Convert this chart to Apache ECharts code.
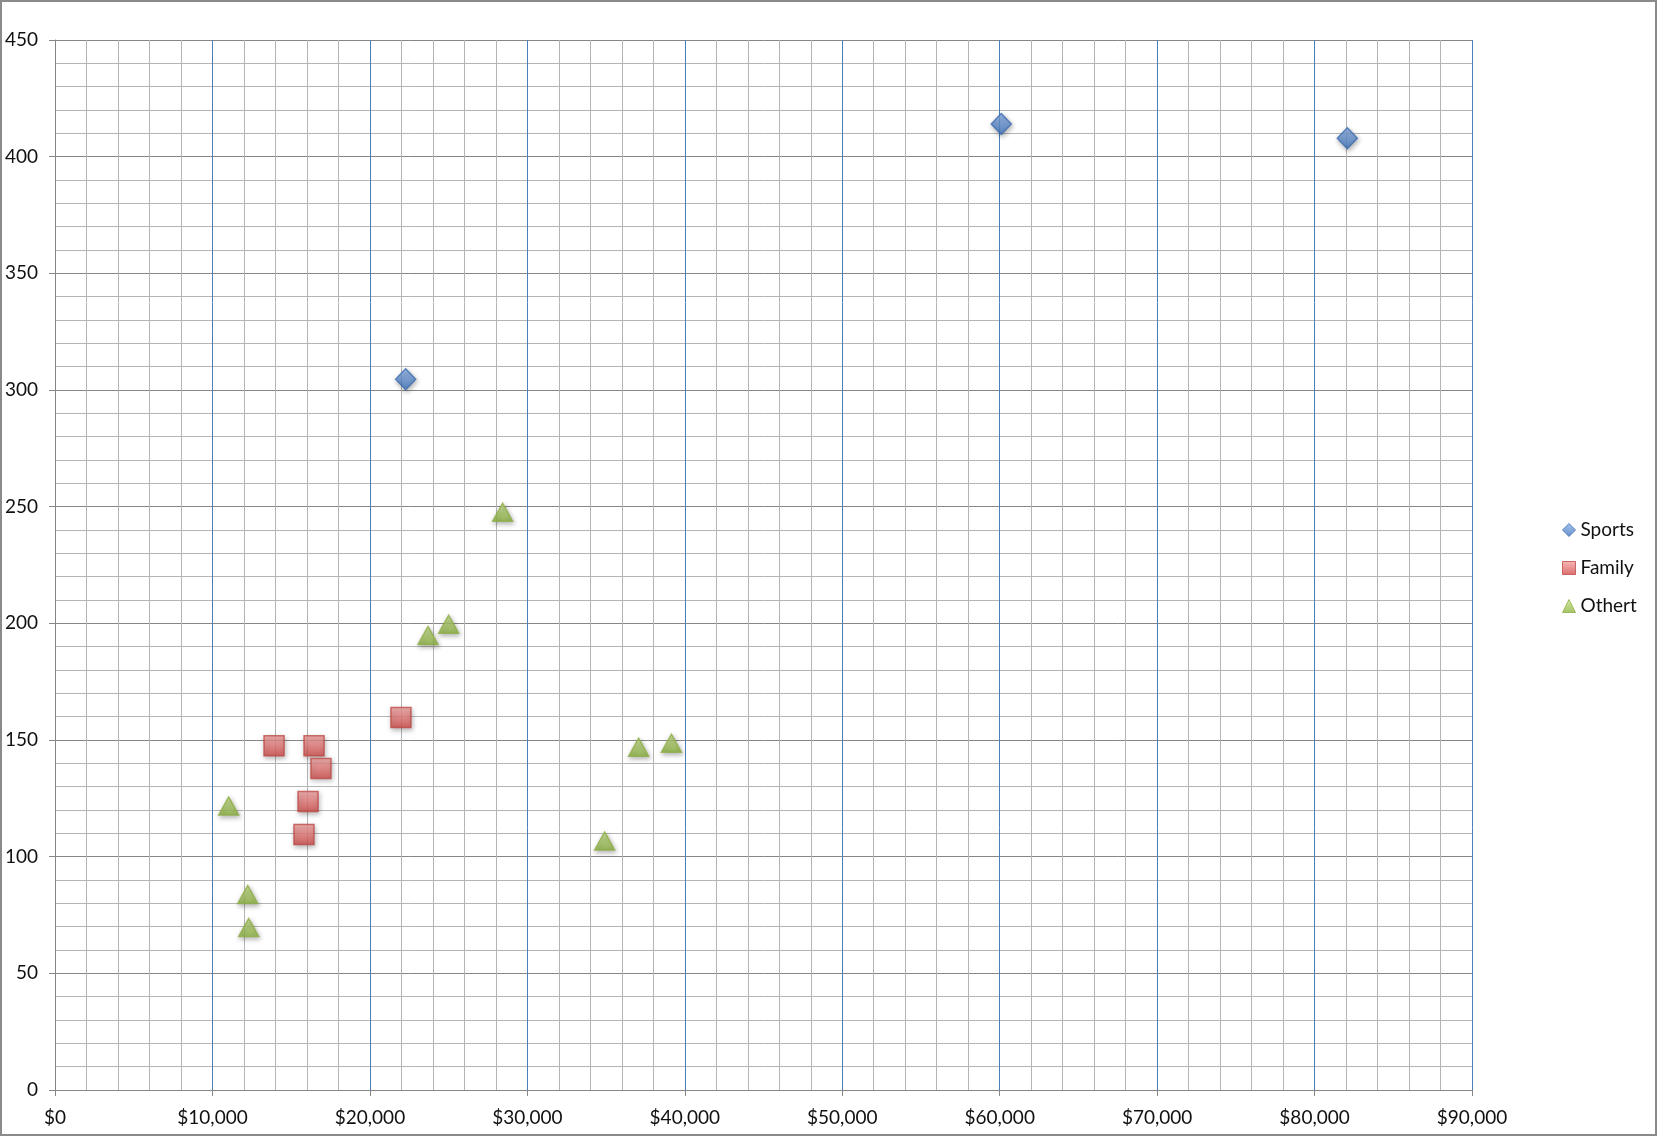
<!DOCTYPE html>
<html>
<head>
<meta charset="utf-8">
<script src="https://cdn.jsdelivr.net/npm/echarts@6/dist/echarts.min.js"></script>
<style>
html,body{margin:0;padding:0;background:#fff;}
#c{width:1657px;height:1136px;box-sizing:border-box;border:2px solid #8a8a8a;}
</style>
</head>
<body>
<div id="c"></div>
<script>
// Data (x = revenue in $, y = value)
const sportsX = [22270, 60100, 82080];
const sportsY = [304.6, 414.0, 407.9];
const familyX = [13910, 16450, 16890, 16070, 15810, 21970];
const familyY = [147.5, 147.5, 137.8, 123.6, 109.5, 159.6];
const otherX = [11030, 12240, 12300, 23690, 25000, 28430, 34910, 37070, 39150];
const otherY = [121.7, 83.8, 69.6, 194.8, 199.6, 247.6, 106.7, 146.9, 148.6];
const seriesNames = ['Sports', 'Family', 'Othert'];

const zip = (xs, ys) => xs.map((x, i) => [x, ys[i]]);
const grad = (a, b) => new echarts.graphic.LinearGradient(0, 0, 0, 1, [{offset: 0, color: a}, {offset: 1, color: b}]);

const chart = echarts.init(document.getElementById('c'));
const font = 'Lato, "Liberation Sans", sans-serif';
chart.setOption({
  animation: false,
  backgroundColor: '#fff',
  grid: {left: 53, right: 183, top: 38, bottom: 44, containLabel: false},
  legend: {
    orient: 'vertical', left: 1555, top: 513, itemWidth: 13, itemHeight: 13, itemGap: 18,
    textStyle: {fontFamily: font, fontSize: 19, color: '#111', lineHeight: 20, padding: [0, 0, 0, 0]},
    itemStyle: {borderWidth: 1},
    data: [
      {name: seriesNames[0], icon: 'diamond'},
      {name: seriesNames[1], icon: 'rect'},
      {name: seriesNames[2], icon: 'triangle'}
    ]
  },
  xAxis: {
    type: 'value', min: 0, max: 90000, interval: 10000,
    axisLine: {show: true, lineStyle: {color: '#868686', width: 1}},
    axisTick: {show: true, length: 6, lineStyle: {color: '#868686'}},
    axisLabel: {fontFamily: font, fontSize: 19, color: '#111', margin: 18,
      formatter: v => '$' + v.toLocaleString('en-US')},
    splitLine: {show: true, lineStyle: {color: '#4a7ebb', width: 1}},
    minorTick: {show: false, splitNumber: 5},
    minorSplitLine: {show: true, lineStyle: {color: '#b4b4b4', width: 1}}
  },
  yAxis: {
    type: 'value', min: 0, max: 450, interval: 50,
    axisLine: {show: true, lineStyle: {color: '#868686', width: 1}},
    axisTick: {show: true, length: 6, lineStyle: {color: '#868686'}},
    axisLabel: {fontFamily: font, fontSize: 19, color: '#111', margin: 17},
    splitLine: {show: true, lineStyle: {color: '#868686', width: 1}},
    minorTick: {show: false, splitNumber: 5},
    minorSplitLine: {show: true, lineStyle: {color: '#b4b4b4', width: 1}}
  },
  series: [
    {
      name: seriesNames[0], type: 'scatter', symbol: 'diamond', symbolSize: [20, 21],
      data: zip(sportsX, sportsY), z: 3,
      itemStyle: {color: grad('#8db3ea', '#3f74bd'), borderColor: '#3c6db0', borderWidth: 1.5,
        shadowBlur: 5, shadowColor: 'rgba(0,0,0,0.35)', shadowOffsetX: 1, shadowOffsetY: 2}
    },
    {
      name: seriesNames[1], type: 'scatter', symbol: 'rect', symbolSize: 20,
      data: zip(familyX, familyY), z: 3,
      itemStyle: {color: grad('#f7a7a6', '#d14a48'), borderColor: '#be4b48', borderWidth: 1.5,
        shadowBlur: 5, shadowColor: 'rgba(0,0,0,0.35)', shadowOffsetX: 1, shadowOffsetY: 2}
    },
    {
      name: seriesNames[2], type: 'scatter', symbol: 'triangle', symbolSize: [20, 18],
      data: zip(otherX, otherY), z: 3,
      itemStyle: {color: grad('#c8e08a', '#8db540'), borderColor: '#8eae46', borderWidth: 1.5,
        shadowBlur: 5, shadowColor: 'rgba(0,0,0,0.35)', shadowOffsetX: 1, shadowOffsetY: 2}
    }
  ]
});
</script>
</body>
</html>
